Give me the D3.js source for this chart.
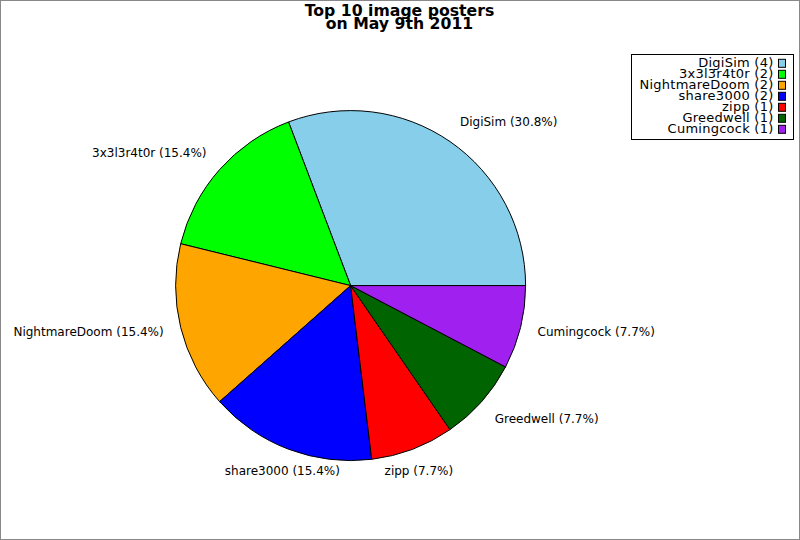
<!DOCTYPE html>
<html>
<head>
<meta charset="utf-8">
<script src="https://cdn.jsdelivr.net/npm/d3@7"></script>
<style>
  html, body { margin: 0; padding: 0; background: #fff; }
  svg { display: block; font-family: "DejaVu Sans", sans-serif; }
</style>
</head>
<body>
<svg id="chart" width="800" height="540"></svg>
<script>
// ---- data ----
const titleLines = ["Top 10 image posters", "on May 9th 2011"];
const names  = ["DigiSim", "3x3l3r4t0r", "NightmareDoom", "share3000", "zipp", "Greedwell", "Cumingcock"];
const counts = [4, 2, 2, 2, 1, 1, 1];
const colors = ["#87CEEB", "#00FF00", "#FFA500", "#0000FF", "#FF0000", "#006400", "#A020F0"];

// ---- layout ----
const W = 800, H = 540;
const cx = 350.6, cy = 285.6, R = 175, labelR = 192.5;

const svg = d3.select("#chart");
svg.append("rect").attr("x", 0.5).attr("y", 0.5).attr("width", W - 1).attr("height", H - 1)
  .attr("fill", "#fff").attr("stroke", "#888").attr("stroke-width", 1);

// title
const title = svg.append("text").attr("text-anchor", "middle")
  .attr("font-weight", "bold").attr("font-size", "15.7px").attr("fill", "#000");
titleLines.forEach((t, i) => {
  title.append("tspan").attr("x", 399.5).attr("y", 16 + i * 13.4).text(t);
});

const data = names.map((n, i) => ({ name: n, value: counts[i], color: colors[i] }));
const total = d3.sum(counts);

// pie: start at 3 o'clock, run counter-clockwise
const pie = d3.pie().sort(null).value(d => d.value)
  .startAngle(Math.PI / 2).endAngle(Math.PI / 2 - 2 * Math.PI);
const arc = d3.arc().innerRadius(0).outerRadius(R);
const arcs = pie(data);

const g = svg.append("g").attr("transform", `translate(${cx},${cy})`);
g.selectAll("path").data(arcs).enter().append("path")
  .attr("d", arc)
  .attr("fill", d => d.data.color)
  .attr("stroke", "#000").attr("stroke-width", 1).attr("stroke-linejoin", "round");

// labels
g.selectAll("text.lbl").data(arcs).enter().append("text")
  .attr("class", "lbl")
  .attr("font-size", "12px").attr("fill", "#000")
  .each(function (d) {
    const th = (d.startAngle + d.endAngle) / 2;
    const sx = Math.sin(th), cyv = Math.cos(th);
    const x = labelR * sx, y = -labelR * cyv;
    const anchor = sx > 0.5 ? "start" : (sx < -0.5 ? "end" : "middle");
    const dy = cyv > 0.5 ? "-0.12em" : (cyv < -0.5 ? "0.8em" : "0.33em");
    d3.select(this).attr("x", x).attr("y", y).attr("dy", dy).attr("text-anchor", anchor)
      .text(`${d.data.name} (${(d.data.value / total * 100).toFixed(1)}%)`);
  });

// legend
const lg = svg.append("g");
lg.append("rect").attr("x", 631.5).attr("y", 54.5).attr("width", 162).attr("height", 85)
  .attr("fill", "#fff").attr("stroke", "#000").attr("stroke-width", 1);
const rowY = d3.scalePoint().domain(names).range([63.3, 129.3]);
data.forEach(d => {
  const y = rowY(d.name);
  lg.append("text").attr("x", 773.5).attr("y", y + 3.9)
    .attr("text-anchor", "end").attr("font-size", "13px").attr("letter-spacing", "0.25px")
    .attr("fill", "#000")
    .text(`${d.name} (${d.value})`);
  lg.append("rect").attr("x", 778.5).attr("y", y - 4).attr("width", 7).attr("height", 8)
    .attr("fill", d.color).attr("stroke", "#000").attr("stroke-width", 1);
});
</script>
</body>
</html>
